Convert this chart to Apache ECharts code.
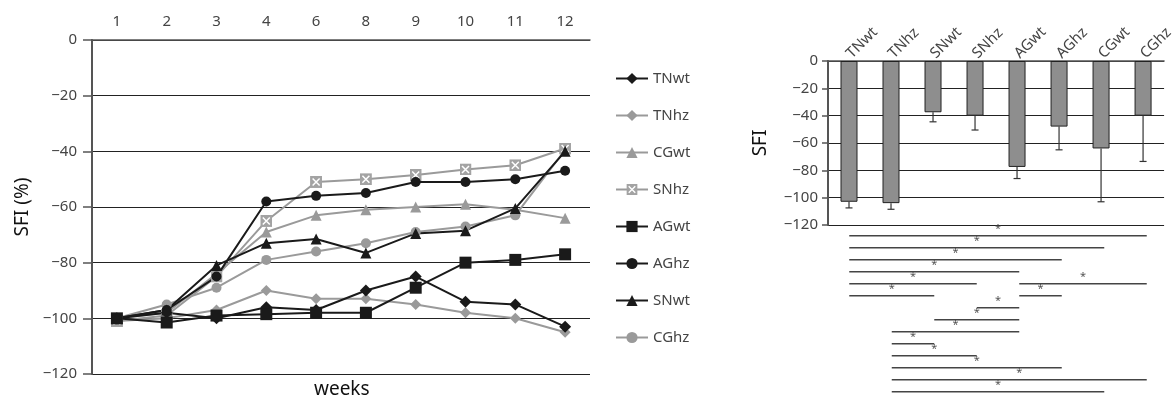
<!DOCTYPE html>
<html>
<head>
<meta charset="utf-8">
<script src="https://cdn.jsdelivr.net/npm/echarts@6/dist/echarts.min.js"></script>
<style>
  html, body { margin: 0; padding: 0; background: #fff; }
  #chart { width: 1176px; height: 407px; }
</style>
</head>
<body>
<div id="chart"></div>
<script>
// weeks (left chart categories)
const weeks = ['1', '2', '3', '4', '6', '8', '9', '10', '11', '12'];

// SFI (%) per week
const TNwt = [-100, -98, -100, -96, -97, -90, -85, -94, -95, -103];
const TNhz = [-101, -100, -97, -90, -93, -93, -95, -98, -100, -105];
const CGwt = [-100, -98, -84, -69, -63, -61, -60, -59, -61, -64];
const SNhz = [-101, -99, -85, -65, -51, -50, -48.5, -46.5, -45, -39];
const AGwt = [-100, -101.5, -99, -98.5, -98, -98, -89, -80, -79, -77];
const AGhz = [-100, -97, -85, -58, -56, -55, -51, -51, -50, -47];
const SNwt = [-100, -97, -81, -73, -71.5, -76.5, -69.5, -68.5, -60.5, -40];
const CGhz = [-100, -95, -89, -79, -76, -73, -69, -67, -63, -39.5];

// right chart: final SFI per group, with error (downward)
const groups = ['TNwt', 'TNhz', 'SNwt', 'SNhz', 'AGwt', 'AGhz', 'CGwt', 'CGhz'];
const groupMeans = [-103, -104, -37.5, -40, -77.5, -48, -64, -40];
const groupErrors = [4.5, 4.5, 7, 10.5, 8.5, 17, 39, 33.5];

// significant pairs: [from group, to group, row]
const sigPairs = [
  [0, 7, 1], [0, 6, 2], [0, 5, 3], [0, 4, 4], [0, 3, 5], [4, 7, 5],
  [0, 2, 6], [4, 5, 6], [3, 4, 7], [2, 4, 8], [1, 4, 9], [1, 2, 10],
  [1, 3, 11], [1, 5, 12], [1, 7, 13], [1, 6, 14],
];

const BLACK = '#1a1a1a';
const GRAY = '#9a9a9a';
const FONT = 'Noto Sans';

const xSymbol = 'image://data:image/svg+xml;utf8,' + encodeURIComponent(
  '<svg xmlns="http://www.w3.org/2000/svg" width="24" height="24">' +
  '<rect x="0" y="0" width="24" height="24" fill="#a3a3a3"/>' +
  '<path d="M5 5L19 19M19 5L5 19" stroke="#fff" stroke-width="3"/></svg>'
);

function lineSeries(name, data, color, symbol, size) {
  return {
    name: name,
    type: 'line',
    data: data,
    xAxisIndex: 0,
    yAxisIndex: 0,
    symbol: symbol,
    symbolSize: size,
    lineStyle: { color: color, width: 2 },
    itemStyle: { color: color, opacity: 1 },
    animation: false,
  };
}

const axisText = { color: '#444', fontSize: 15, fontFamily: FONT };
const minus = (v) => (v < 0 ? '\u2212' + (-v) : v);

const option = {
  animation: false,
  textStyle: { fontFamily: FONT },
  legend: {
    orient: 'vertical',
    left: 610,
    top: 66,
    itemWidth: 32,
    itemHeight: 14,
    itemGap: 22,
    textStyle: { color: '#444', fontSize: 15, fontFamily: FONT },
    data: ['TNwt', 'TNhz', 'CGwt', 'SNhz', 'AGwt', 'AGhz', 'SNwt', 'CGhz'],
  },
  graphic: [
    {
      type: 'text',
      left: 314,
      top: 380,
      style: { text: 'weeks', fontSize: 19, fill: '#111', fontFamily: FONT },
    },
  ],
  grid: [
    { left: 92, top: 40, width: 498, height: 334 },
    { left: 828, top: 61, width: 340, height: 164 },
    { left: 828, top: 223.7, width: 340, height: 180 },
  ],
  xAxis: [
    {
      type: 'category',
      gridIndex: 0,
      position: 'top',
      data: weeks,
      boundaryGap: true,
      axisLine: { lineStyle: { color: '#555', width: 1.5 } },
      axisTick: { inside: true, length: 5, lineStyle: { color: '#555', width: 1.5 } },
      axisLabel: Object.assign({ margin: 11 }, axisText),
    },
    {
      type: 'category',
      gridIndex: 1,
      position: 'top',
      data: groups,
      axisLine: { lineStyle: { color: '#555', width: 1.5 } },
      axisTick: { inside: true, length: 6, lineStyle: { color: '#555', width: 1.5 } },
      axisLabel: Object.assign({ rotate: 45, margin: 5 }, axisText),
    },
    {
      type: 'category',
      gridIndex: 2,
      data: groups,
      show: false,
    },
  ],
  yAxis: [
    {
      type: 'value',
      gridIndex: 0,
      min: -120,
      max: 0,
      interval: 20,
      name: 'SFI (%)',
      nameLocation: 'middle',
      nameGap: 60,
      nameTextStyle: { color: '#111', fontSize: 19, fontFamily: FONT },
      axisLine: { show: true, lineStyle: { color: '#555', width: 2 } },
      axisTick: { show: true, length: 9, lineStyle: { color: '#555', width: 1.5 } },
      axisLabel: Object.assign({ margin: 15, formatter: minus }, axisText),
      splitLine: { lineStyle: { color: '#222', width: 1.2 } },
    },
    {
      type: 'value',
      gridIndex: 1,
      min: -120,
      max: 0,
      interval: 20,
      name: 'SFI',
      nameLocation: 'middle',
      nameGap: 58,
      nameTextStyle: { color: '#111', fontSize: 19, fontFamily: FONT },
      axisLine: { show: true, lineStyle: { color: '#555', width: 2 } },
      axisTick: { show: true, length: 6, lineStyle: { color: '#555', width: 1.5 } },
      axisLabel: Object.assign({ margin: 10, formatter: minus }, axisText),
      splitLine: { lineStyle: { color: '#222', width: 1.2 } },
    },
    {
      type: 'value',
      gridIndex: 2,
      min: 0,
      max: 15,
      inverse: true,
      show: false,
      splitLine: { show: false },
    },
  ],
  series: [
    lineSeries('CGhz', CGhz, GRAY, 'circle', 10),
    lineSeries('TNhz', TNhz, GRAY, 'diamond', 11),
    lineSeries('CGwt', CGwt, GRAY, 'triangle', 11),
    lineSeries('SNhz', SNhz, GRAY, xSymbol, 12),
    lineSeries('TNwt', TNwt, BLACK, 'diamond', 12),
    lineSeries('AGwt', AGwt, BLACK, 'rect', 12),
    lineSeries('AGhz', AGhz, BLACK, 'circle', 10),
    lineSeries('SNwt', SNwt, BLACK, 'triangle', 11),
    {
      // bars
      type: 'bar',
      xAxisIndex: 1,
      yAxisIndex: 1,
      barWidth: 17,
      data: groupMeans,
      itemStyle: { color: '#8e8e8e', borderColor: '#222', borderWidth: 1 },
      z: 3,
    },
    {
      // error bars (one sided)
      type: 'custom',
      xAxisIndex: 1,
      yAxisIndex: 1,
      data: groupMeans.map((m, i) => [i, m, m - groupErrors[i]]),
      encode: { x: 0, y: [1, 2] },
      z: 2,
      renderItem(params, api) {
        const top = api.coord([api.value(0), api.value(1)]);
        const bot = api.coord([api.value(0), api.value(2)]);
        const style = { stroke: '#333', lineWidth: 1.2 };
        return {
          type: 'group',
          children: [
            { type: 'line', shape: { x1: top[0], y1: top[1], x2: bot[0], y2: bot[1] }, style: style },
            { type: 'line', shape: { x1: bot[0] - 3.5, y1: bot[1], x2: bot[0] + 3.5, y2: bot[1] }, style: style },
          ],
        };
      },
    },
    {
      // significance lines
      type: 'custom',
      xAxisIndex: 2,
      yAxisIndex: 2,
      data: sigPairs,
      encode: { x: [0, 1], y: 2 },
      renderItem(params, api) {
        const p1 = api.coord([api.value(0), api.value(2)]);
        const p2 = api.coord([api.value(1), api.value(2)]);
        return {
          type: 'group',
          children: [
            { type: 'line', shape: { x1: p1[0], y1: p1[1], x2: p2[0], y2: p2[1] }, style: { stroke: '#444', lineWidth: 1.5 } },
            {
              type: 'text',
              x: (p1[0] + p2[0]) / 2,
              y: p1[1] - 1,
              style: { text: '*', fill: '#555', fontSize: 11, align: 'center', verticalAlign: 'bottom', fontFamily: FONT },
            },
          ],
        };
      },
    },
  ],
};

const myechart = echarts.init(document.getElementById('chart'));
myechart.setOption(option);
</script>
</body>
</html>
